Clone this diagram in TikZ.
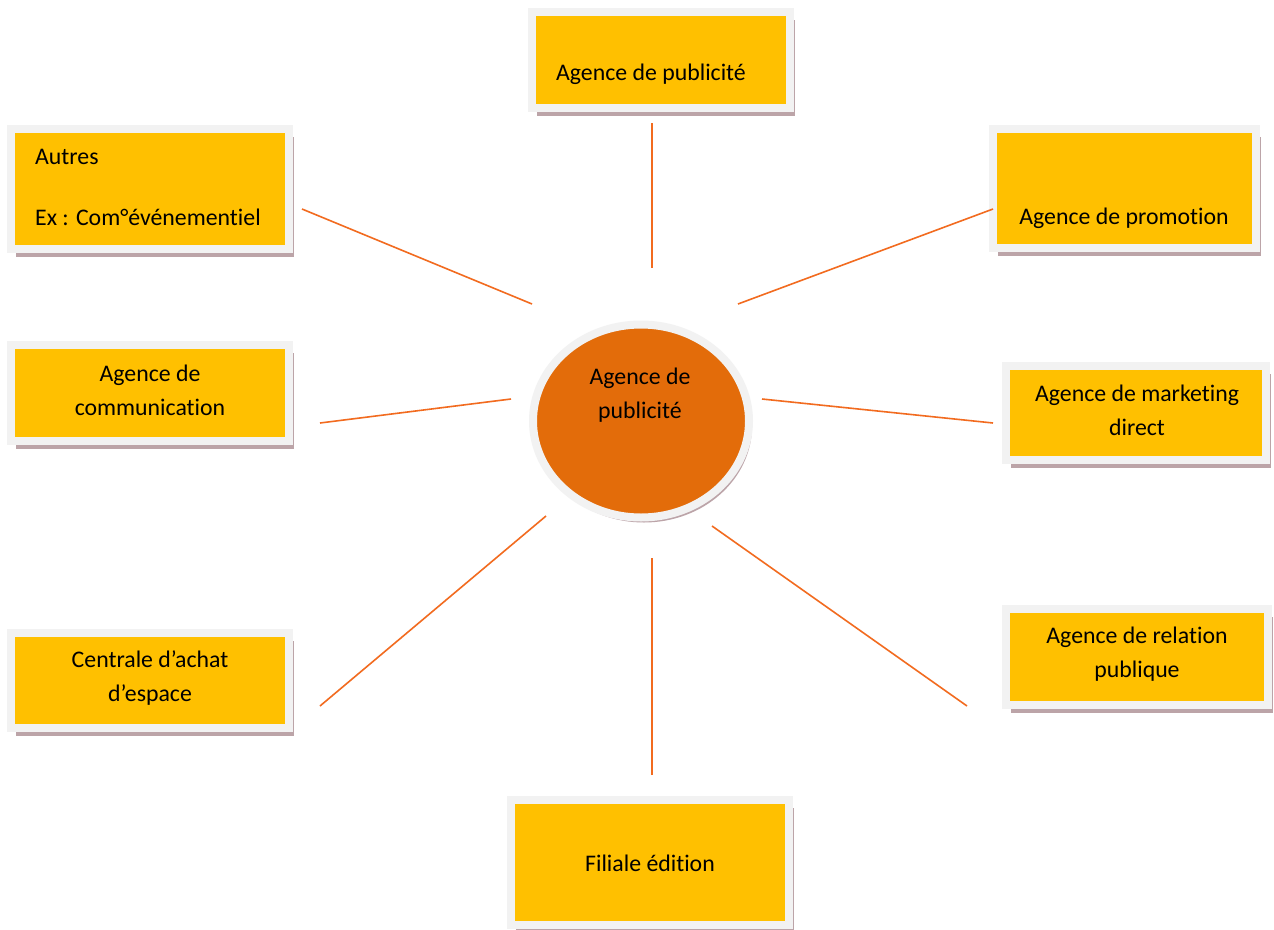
\documentclass[tikz,border=0pt]{standalone}
\usepackage{fontspec}
\setmainfont[Ligatures=NoCommon]{Carlito}
\usetikzlibrary{shapes.geometric,shadows}
\definecolor{boxyellow}{HTML}{FFC000}
\definecolor{circorange}{HTML}{E36C0A}
\definecolor{framegray}{HTML}{F2F2F2}
\definecolor{shadowc}{HTML}{BCA4A8}
\definecolor{linkorange}{HTML}{F26B1F}
\begin{document}
\begin{tikzpicture}[x=1pt,y=-1pt,
  box/.style={draw=framegray, line width=8pt, fill=boxyellow, inner sep=0pt,
    drop shadow={shadow xshift=5pt, shadow yshift=-8pt, fill=shadowc, opacity=1}},
  hub/.style={ellipse, draw=framegray, line width=8pt, fill=circorange, inner sep=0pt,
    drop shadow={shadow xshift=3pt, shadow yshift=-5pt, fill=shadowc, opacity=1}},
  lbl/.style={font=\fontsize{23.8}{34}\selectfont, text=black, inner sep=0pt, align=center},
  link/.style={draw=linkorange, line width=1.6pt}]
\useasboundingbox[fill=white] (0,0) rectangle (1274,929);

% boxes
\node[box, minimum width=258pt, minimum height=96pt] (top) at (661,60) {};
\node[box, minimum width=278pt, minimum height=120pt] (autres) at (150,189) {};
\node[box, minimum width=263pt, minimum height=119pt] (promo) at (1124.5,188.5) {};
\node[box, minimum width=278pt, minimum height=96pt] (comm) at (150,393) {};
\node[box, minimum width=260pt, minimum height=94pt] (mkt) at (1136,413) {};
\node[box, minimum width=262pt, minimum height=96pt] (rel) at (1137,657) {};
\node[box, minimum width=278pt, minimum height=95pt] (cent) at (150,680.5) {};
\node[box, minimum width=278pt, minimum height=125pt] (fil) at (650,862.5) {};
\node[hub, minimum width=216pt, minimum height=193pt] (hub) at (641,421) {};

% texts
\node[lbl] (ttop) at (651,74) {Agence de publicité};
\node[lbl, anchor=west] (taut1) at (35,157) {Autres};
\node[lbl, anchor=west] (taut2) at (35,217) {Ex : Com°événementiel};
\node[lbl] (tpromo) at (1124,218) {Agence de promotion};
\node[lbl] (tcomm) at (150,390) {Agence de\\communication};
\node[lbl] (tmkt) at (1137,410) {Agence de marketing\\direct};
\node[lbl] (trel) at (1137,654) {Agence de relation\\publique};
\node[lbl] (tcent) at (150,678) {Centrale d’achat\\d’espace};
\node[lbl] (tfil) at (650,863) {Filiale édition};
\node[lbl] (thub) at (640,395) {Agence de\\publicité};

% connector ends
\coordinate (a1) at (652,123); \coordinate (b1) at (652,268);
\coordinate (a2) at (302,209); \coordinate (b2) at (532,304);
\coordinate (a3) at (993,209); \coordinate (b3) at (738,304);
\coordinate (a4) at (320,423); \coordinate (b4) at (511,399);
\coordinate (a5) at (993,423); \coordinate (b5) at (762,399);
\coordinate (a6) at (320,706); \coordinate (b6) at (546,516);
\coordinate (a7) at (967,706); \coordinate (b7) at (712,526);
\coordinate (a8) at (652,775); \coordinate (b8) at (652,558);

\foreach \i in {1,...,8} {\draw[link] (a\i) -- (b\i);}
\end{tikzpicture}
\end{document}
